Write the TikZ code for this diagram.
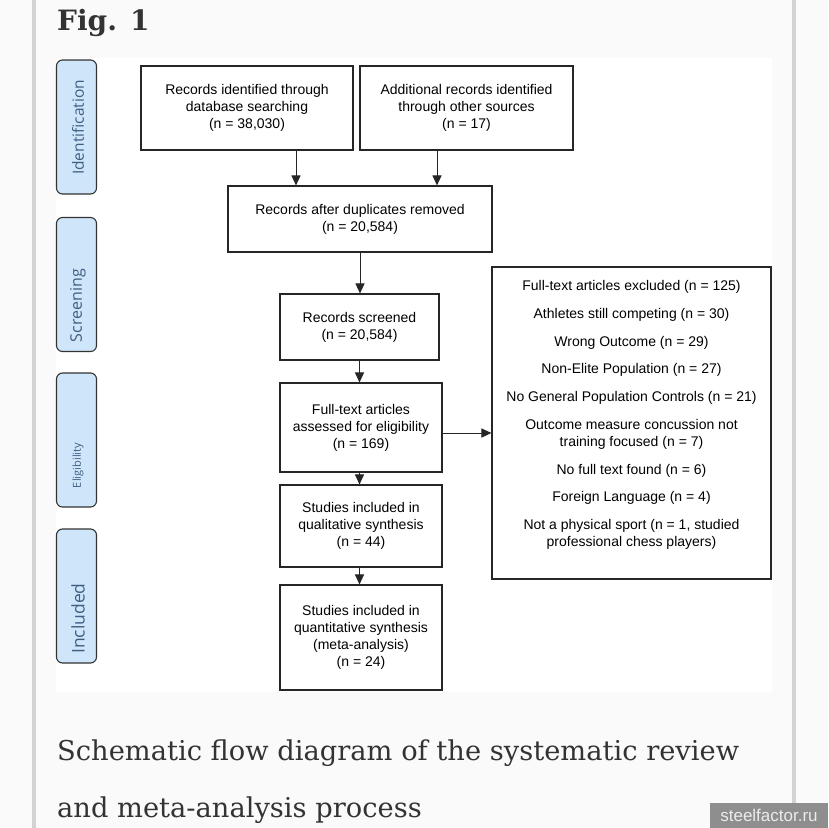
\documentclass[tikz,border=0pt]{standalone}
\usepackage{fontspec}
\setmainfont{Liberation Sans}
\newfontfamily\captionserif{DejaVu Serif}
\newfontfamily\phasesans{Open Sans}
\usetikzlibrary{arrows.meta}
\definecolor{phasefill}{HTML}{CFE6FA}
\definecolor{phaseink}{HTML}{3E5F84}
\definecolor{pagegrey}{HTML}{FAFAFA}
\definecolor{bargrey}{HTML}{D3D3D3}
\definecolor{capink}{HTML}{333333}
\definecolor{markgrey}{HTML}{8E8E8E}

\begin{document}
\begin{tikzpicture}[x=1pt,y=-1pt,
  box/.style={draw=black!85,line width=1.1pt,inner sep=0pt,align=center,font=\fontsize{14}{17}\selectfont},
  phase/.style={draw=black!80,fill=phasefill,rounded corners=6pt,line width=1.1pt,minimum width=40pt,minimum height=134pt},
  phaselabel/.style={rotate=90,text=phaseink,inner sep=0pt},
  arr/.style={-{Triangle[length=10pt,width=9pt]},line width=1pt,draw=black!85}]
\useasboundingbox (0,0) rectangle (828,828);
\fill[pagegrey] (0,0) rectangle (828,828);
\fill[white] (56,58) rectangle (772,692);
\fill[bargrey] (32,0) rectangle (36,828);
\fill[bargrey] (792,0) rectangle (796,828);

\node[anchor=base west,inner sep=0pt,text=capink,font=\captionserif\bfseries\fontsize{28}{28}\selectfont] (figtitle) at (57,30) {Fig. 1};

% phase labels on the left
\node[phase] (ident) at (76.5,127) {};
\node[phase] (screen) at (76.5,284.5) {};
\node[phase] (elig) at (76.5,440) {};
\node[phase] (incl) at (76.5,596) {};
\node[phaselabel,font=\phasesans\fontsize{15.5}{16}\selectfont] (identlbl) at (78,127.5) {Identification};
\node[phaselabel,font=\phasesans\fontsize{16}{16}\selectfont] (screenlbl) at (78,305.5) {Screening};
\node[phaselabel,font=\phasesans\fontsize{11}{12}\selectfont] (eliglbl) at (78,465.5) {Eligibility};
\node[phaselabel,font=\phasesans\fontsize{17.5}{18}\selectfont] (incllbl) at (78,618.5) {Included};

% flow boxes
\node[box,minimum width=212pt,minimum height=84pt] (dbrec) at (247,108) {Records identified through\\database searching\\(n = 38,030)};
\node[box,minimum width=213pt,minimum height=84pt] (otherrec) at (466.5,108) {Additional records identified\\through other sources\\(n = 17)};
\node[box,minimum width=264pt,minimum height=66pt] (dedup) at (360,219) {Records after duplicates removed\\(n = 20,584)};
\node[box,minimum width=159pt,minimum height=66pt] (screened) at (359.5,327) {Records screened\\(n = 20,584)};
\node[box,minimum width=162pt,minimum height=89pt] (fulltext) at (361,427.5) {Full-text articles\\assessed for eligibility\\(n = 169)};
\node[box,minimum width=162pt,minimum height=82pt] (qual) at (361,526) {Studies included in\\qualitative synthesis\\(n = 44)};
\node[box,minimum width=162pt,minimum height=105pt] (quant) at (361,637.5) {Studies included in\\quantitative synthesis\\(meta-analysis)\\(n = 24)};
\node[box,minimum width=279pt,minimum height=312pt] (excl) at (631.5,423) {};
\node[align=center,inner sep=0pt,font=\fontsize{14}{17}\selectfont] (excltext) at (631.5,415) {Full-text articles excluded (n = 125)\\[10.7pt]
Athletes still competing (n = 30)\\[10.7pt]
Wrong Outcome (n = 29)\\[10.7pt]
Non-Elite Population (n = 27)\\[10.7pt]
No General Population Controls (n = 21)\\[10.7pt]
Outcome measure concussion not\\training focused (n = 7)\\[10.7pt]
No full text found (n = 6)\\[10.7pt]
Foreign Language (n = 4)\\[10.7pt]
Not a physical sport (n = 1, studied\\professional chess players)};

% connectors
\coordinate (dbdrop) at (296,0);
\coordinate (otherdrop) at (437,0);
\coordinate (exclrow) at (0,433);
\draw[arr] (dbrec.south -| dbdrop) -- (dedup.north -| dbdrop);
\draw[arr] (otherrec.south -| otherdrop) -- (dedup.north -| otherdrop);
\draw[arr] (dedup.south) -- (dedup.south |- screened.north);
\draw[arr] (screened.south) -- (screened.south |- fulltext.north);
\draw[arr] (fulltext.south -| screened.south) -- (qual.north -| screened.south);
\draw[arr] (qual.south -| screened.south) -- (quant.north -| screened.south);
\draw[arr] (fulltext.east |- exclrow) -- (excl.west |- exclrow);

% caption and watermark
\node[anchor=base west,inner sep=0pt,align=left,text=capink,font=\captionserif\fontsize{27.3}{57}\selectfont] (caption) at (57,817) {Schematic flow diagram of the systematic review\\and meta-analysis process};
\node[fill=markgrey,inner sep=0pt,minimum width=118pt,minimum height=25pt,text=white!92!black,font=\fontsize{17}{17}\selectfont] (mark) at (769,815.5) {steelfactor.ru};
\end{tikzpicture}
\end{document}
